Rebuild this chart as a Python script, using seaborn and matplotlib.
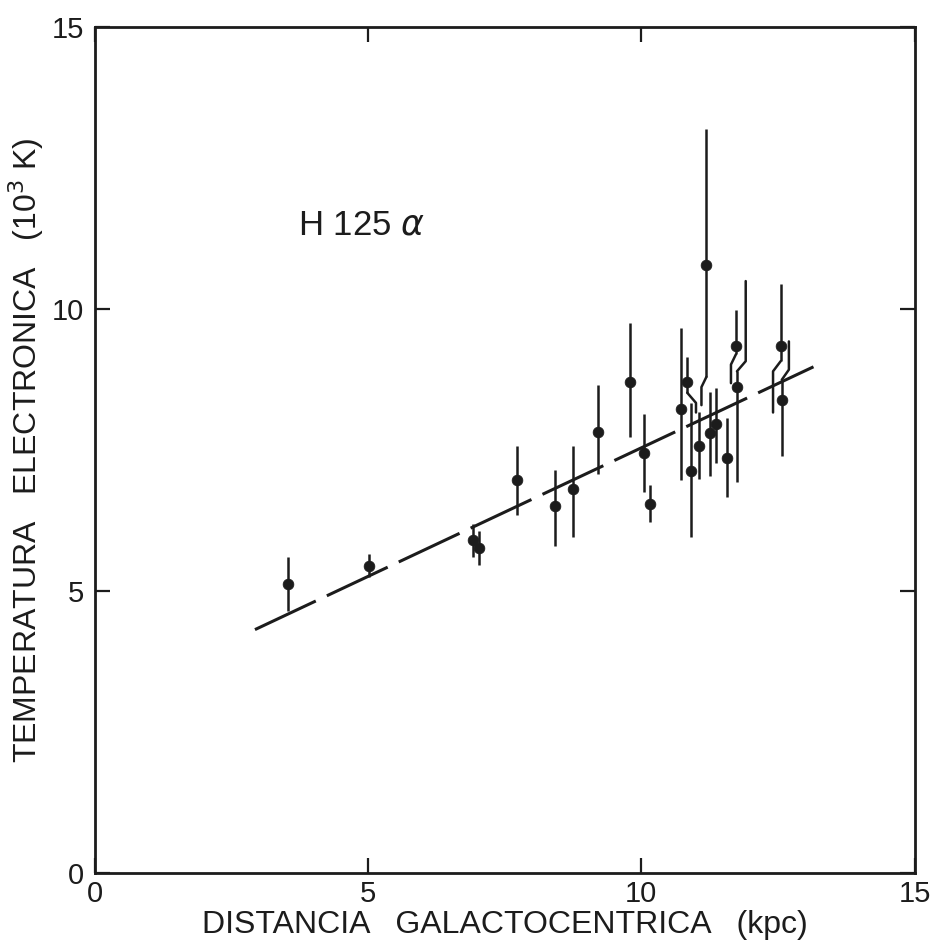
import numpy as np
import pandas as pd
import seaborn as sns
import matplotlib.pyplot as plt

# distancia galactocentrica (kpc) y temperatura electronica (10^3 K)
dist = [3.53, 5.02, 6.92, 7.03, 7.73, 8.42, 8.75, 9.21, 9.80, 10.05, 10.16, 10.73,
        10.84, 10.90, 11.19, 11.06, 11.25, 11.37, 11.56, 11.73, 11.75, 12.55, 12.57]
temp = [5.13, 5.45, 5.91, 5.77, 6.97, 6.51, 6.81, 7.83, 8.71, 7.46, 6.54, 8.24,
        8.71, 7.13, 10.79, 7.58, 7.80, 7.96, 7.37, 9.35, 8.62, 9.35, 8.39]
temp_lo = [4.65, 5.25, 5.61, 5.47, 6.36, 5.81, 5.97, 7.08, 7.74, 6.76, 6.22, 6.97,
           8.17, 5.97, 8.30, 6.99, 7.04, 7.28, 6.68, 8.69, 6.94, 8.17, 7.40]
temp_hi = [5.61, 5.66, 6.20, 6.06, 7.58, 7.15, 7.58, 8.66, 9.75, 8.15, 6.88, 9.66,
           9.16, 8.33, 13.19, 8.17, 8.53, 8.60, 8.08, 9.98, 10.50, 10.45, 9.43]

# recta de ajuste
ajuste_x = [2.93, 13.15]
ajuste_y = [4.32, 8.98]

# barras desplazadas donde se solapan: indice -> (lado, altura del quiebre, dx)
quiebres = {12: ('lo', 8.52, 0.16), 14: ('lo', 8.80, -0.09), 19: ('lo', 9.20, -0.09),
            20: ('hi', 8.90, 0.16), 21: ('lo', 9.08, -0.14), 22: ('hi', 8.75, 0.13)}

df = pd.DataFrame({'dist': dist, 'temp': temp})
df_fit = pd.DataFrame({'x': ajuste_x, 'y': ajuste_y})

sns.set_theme(style='ticks')
plt.rcParams['font.family'] = ['Liberation Sans', 'DejaVu Sans']
color = '#1c1c1c'

fig = plt.figure(figsize=(9.39, 9.42), dpi=100)
ax = fig.add_axes([0.101, 0.073, 0.873, 0.898])

# recta de ajuste discontinua
sns.lineplot(data=df_fit, x='x', y='y', ax=ax, color=color, lw=2.2)
ax.lines[-1].set_dashes((22, 4))

# barras de error
for i in range(len(dist)):
    x, y, lo, hi = dist[i], temp[i], temp_lo[i], temp_hi[i]
    if i in quiebres:
        lado, yq, dx = quiebres[i]
        h = 0.18
        if lado == 'lo':
            ax.plot([x, x], [hi, yq], color=color, lw=1.8, solid_capstyle='butt')
            ax.plot([x, x + dx, x + dx], [yq, yq - h, lo], color=color, lw=1.8)
        else:
            ax.plot([x, x], [lo, yq], color=color, lw=1.8, solid_capstyle='butt')
            ax.plot([x, x + dx, x + dx], [yq, yq + h, hi], color=color, lw=1.8)
    else:
        ax.plot([x, x], [lo, hi], color=color, lw=1.8, solid_capstyle='butt')

sns.scatterplot(data=df, x='dist', y='temp', ax=ax, color=color, s=60,
                edgecolor=color, linewidth=0.5, zorder=5)

ax.text(3.72, 11.5, r'H 125 $\alpha$', fontsize=25, color=color, va='center')

ax.set_xlim(0, 15)
ax.set_ylim(0, 15)
ax.set_xticks([0, 5, 10, 15])
ax.set_yticks([0, 5, 10, 15])
ax.tick_params(direction='in', length=11, width=1.6, top=True, right=True,
               labelsize=21, colors=color)
ax.tick_params(axis='x', pad=5)
ax.tick_params(axis='y', pad=8)
for s in ax.spines.values():
    s.set_linewidth(2)
    s.set_color(color)

ax.set_xlabel('DISTANCIA   GALACTOCENTRICA   (kpc)', fontsize=23, color=color, labelpad=1)
ax.set_ylabel(r'TEMPERATURA   ELECTRONICA   (10$^3$ K)', fontsize=23, color=color, labelpad=4)

plt.savefig('out.png', dpi=100)
